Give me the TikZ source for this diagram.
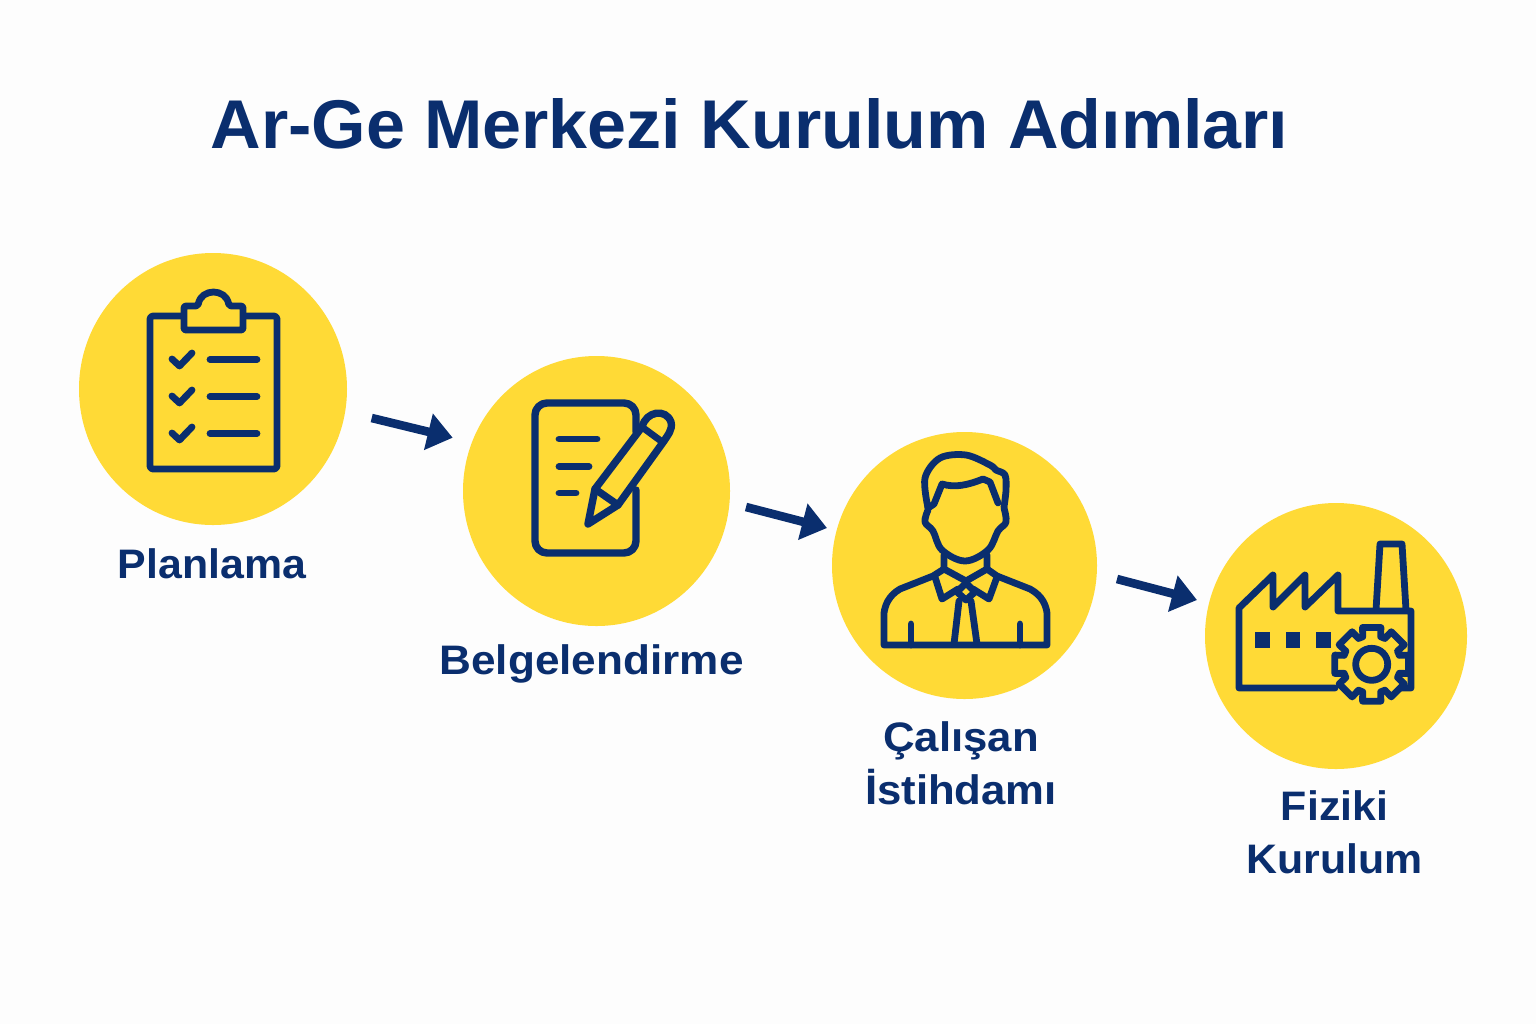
\documentclass[tikz,border=0pt]{standalone}
\usepackage{graphicx}
\usepackage{fontspec}
\setmainfont[FakeStretch=1.04]{Liberation Sans}
\newfontfamily\titlefam[FakeStretch=1.015]{Liberation Sans}
\usetikzlibrary{arrows.meta,shapes.geometric}
\definecolor{navy}{HTML}{0A2E6E}
\definecolor{sun}{HTML}{FFDA36}
\definecolor{paper}{HTML}{FDFDFD}
\tikzset{
  disc/.style={ellipse,fill=sun,inner sep=0pt},
  ink/.style={draw=navy,line width=3.4pt,line join=round,line cap=round},
  heavyink/.style={draw=navy,line width=3.7pt,line join=round,line cap=round},
  flowarrow/.style={draw=navy,line width=4.3pt,-{Triangle[length=12.5pt,width=18pt]}},
  steplabel/.style={text=navy,font=\fontsize{20.6}{26.5}\selectfont\bfseries,align=center,inner sep=0pt},
  titletext/.style={text=navy,font=\titlefam\fontsize{34.5}{40}\selectfont\bfseries,inner sep=0pt}
}
\begin{document}
\begin{tikzpicture}[x=0.5pt,y=-0.5pt]
\useasboundingbox (0,0) rectangle (1536,1024);
\fill[paper] (0,0) rectangle (1536,1024);
\node[titletext] (title) at (749.5,124) {Ar-Ge Merkezi Kurulum Adımları};
\node[disc,minimum width=134pt,minimum height=136pt] (c1) at (213,389) {};
\node[disc,minimum width=133.5pt,minimum height=135pt] (c2) at (596.5,491) {};
\node[disc,minimum width=132.5pt,minimum height=133.5pt] (c3) at (964.5,565.5) {};
\node[disc,minimum width=131pt,minimum height=133pt] (c4) at (1336,636) {};
\node[steplabel] (l1) at (212,564) {Planlama};
\node[steplabel] (l2) at (591.5,663.5) {\scalebox{1.03}[1]{Belgelendirme}};
\node[steplabel] (l3) at (961,763) {\scalebox{1.02}[1]{Çalışan}\\\scalebox{1.02}[1]{İstihdamı}};
\node[steplabel] (l4) at (1334.5,832) {Fiziki\\Kurulum};
% arrows
\coordinate (a1s) at (371.7,418); \coordinate (a1e) at (452.7,437.7);
\coordinate (a2s) at (746,507); \coordinate (a2e) at (827,528);
\coordinate (a3s) at (1117,579); \coordinate (a3e) at (1197,600);
\draw[flowarrow] (a1s) -- (a1e);
\draw[flowarrow] (a2s) -- (a2e);
\draw[flowarrow] (a3s) -- (a3e);
% clipboard
\draw[ink,rounded corners=1.5pt] (183,316) -- (150,316) -- (150,469) -- (277,469) -- (277,316) -- (243,316);
\draw[ink,rounded corners=1pt,fill=sun] (184,330) -- (184,306) -- (198,306) .. controls (201,288) and (226,288) .. (229,306) -- (243,306) -- (243,330) -- cycle;
\foreach \yy in {0,37,74}{
  \draw[ink] (172,{359+\yy}) -- (179.5,{366+\yy}) -- (192,{353+\yy});
  \draw[ink] (210,{359.5+\yy}) -- (257,{359.5+\yy});
}
% document
\draw[heavyink,rounded corners=6pt] (636,432) -- (636,403) -- (535,403) -- (535,553) -- (636,553) -- (636,490);
\draw[ink] (559,439) -- (597,439);
\draw[ink] (559,466.5) -- (589,466.5);
\draw[ink] (559,493) -- (576,493);
\draw[heavyink] (595,489) -- (642,427) .. controls (646,411) and (666,408) .. (671,422) .. controls (673,430) and (667,436) .. (664,441) -- (618,505) -- (588,524) -- cycle;
\draw[heavyink] (595,489) -- (618,505);
\draw[ink] (642,427) -- (661,441);
% person
\draw[ink] plot[smooth,tension=0.55] coordinates {(928,508) (925,478) (940,458) (966,455) (990,465) (996,470) (1005,475) (1006,490) (1004,507)};
\draw[ink] (928,508) -- (934,504) -- (942,484) .. controls (955,488) and (968,485) .. (983,479) -- (990,482) -- (998,503);
\draw[ink] plot[smooth,tension=0.6] coordinates {(928,510) (925,522) (933,531) (942,550) (965,561) (988,550) (998,531) (1006,522) (1004,508)};
\draw[ink] (944,555) -- (944,569) -- (966,581) -- (987,569) -- (987,555);
\draw[ink] (944,569) -- (933,576) -- (900,589) .. controls (888,596) and (885,606) .. (884,613) -- (884,645) -- (1047,645) -- (1047,613) .. controls (1046,606) and (1043,596) .. (1030,589) -- (997,576) -- (987,569);
\draw[ink] (935,577) -- (942,599) -- (958,589);
\draw[ink] (997,577) -- (989,599) -- (973,589);
\draw[ink] (966,583) -- (975,592) -- (966,600) -- (957,592) -- cycle;
\draw[ink] (959,601) -- (954,644);
\draw[ink] (971,601) -- (977,644);
\draw[ink] (911,624) -- (911,645);
\draw[ink] (1020,624) -- (1020,645);
% factory
\draw[ink] (1335,688) -- (1239,688) -- (1239,608) -- (1273,575) -- (1273,607) -- (1305,575) -- (1305,607) -- (1338,575) -- (1338,611) -- (1411,611) -- (1411,688) -- (1398,688);
\draw[ink] (1376,610) -- (1380,544) -- (1402,544) -- (1406,610);
\fill[navy] (1255,632) rectangle (1270,648);
\fill[navy] (1286,632) rectangle (1300,648);
\fill[navy] (1316,632) rectangle (1331,648);
\begin{scope}[shift={(1371.7,664.3)}]
\draw[ink,fill=sun] (76:38) \foreach \ang in {90,135,...,405}{ -- (\ang-14:38) -- (\ang+14:38) -- (\ang+18:29) -- (\ang+27:29) } -- cycle;
\draw[ink] (0,0) circle [radius=16];
\end{scope}
\end{tikzpicture}
\end{document}
